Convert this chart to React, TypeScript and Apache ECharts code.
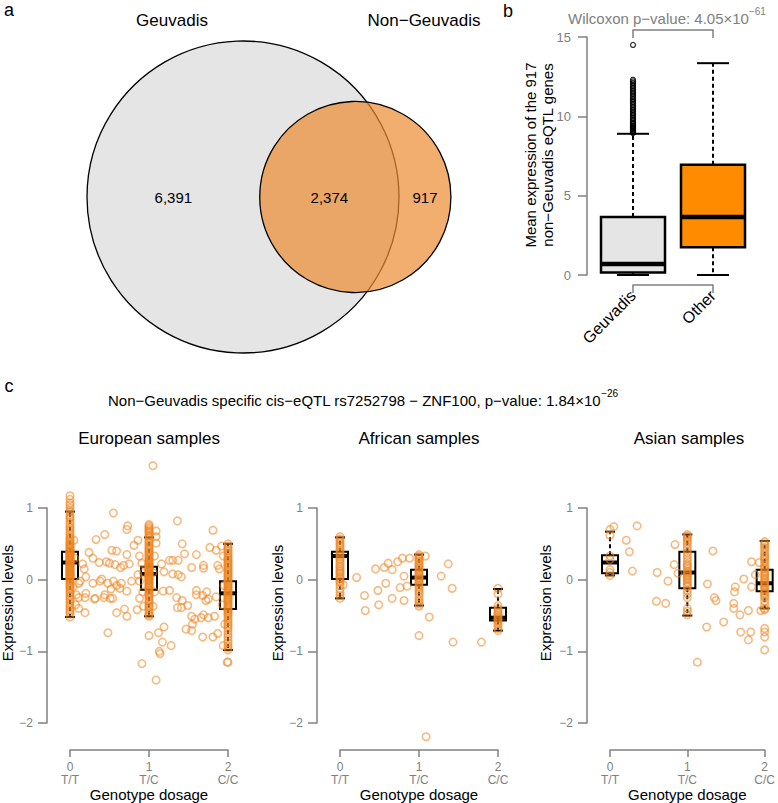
import React, { useEffect, useRef } from 'react';
import * as echarts from 'echarts';

const FONT = '"Liberation Sans", Arial, Helvetica, sans-serif';
const GRAY = '#808080';
const PT_COLOR = 'rgba(238,132,32,0.7)';

// ---------- Panel a: Venn ----------
const vennSetNames = ['Geuvadis', 'Non\u2212Geuvadis'];
const vennGeuvadisOnly = 6391;
const vennShared = 2374;
const vennNonGeuvadisOnly = 917;

// ---------- Panel b: boxplot ----------
const bCategories = ['Geuvadis', 'Other'];
// [x, lower whisker, q1, median, q3, upper whisker]
const bBoxes = [
  [0, 0, 0.15, 0.7, 3.65, 8.9],
  [1, 0, 1.75, 3.65, 6.95, 13.35],
];
const bOutliersGeuvadis = [
  8.95, 9.0, 9.05, 9.1, 9.15, 9.2, 9.25, 9.3, 9.35, 9.4, 9.5, 9.55, 9.6, 9.7, 9.8, 9.9, 10.0, 10.1,
  10.2, 10.3, 10.4, 10.5, 10.6, 10.7, 10.8, 10.9, 11.0, 11.1, 11.2, 11.3, 11.4, 11.5, 11.6, 11.7,
  11.8, 11.9, 12.0, 12.1, 12.2, 12.3, 14.5,
];
const bPValue = '4.05\u00d710';
const bPExp = '\u221261';

// ---------- Panel c ----------
const genotypeLabels = ['T/T', 'T/C', 'C/C'];
const cPopulations = ['European samples', 'African samples', 'Asian samples'];
const cPValue = '1.84\u00d710';
const cPExp = '\u221226';

const eurCol0 = [1.17, 1.12, 1.07, 1.04, 1.0, 0.96, 0.94, 0.9, 0.87, 0.85, 0.81, 0.78, 0.74, 0.72, 0.69, 0.66, 0.63, 0.6, 0.58, 0.56, 0.54, 0.52, 0.5, 0.49, 0.47, 0.46, 0.44, 0.43, 0.41, 0.4, 0.39, 0.38, 0.37, 0.36, 0.35, 0.34, 0.33, 0.32, 0.31, 0.3, 0.29, 0.28, 0.27, 0.26, 0.25, 0.24, 0.23, 0.22, 0.21, 0.2, 0.19, 0.18, 0.17, 0.16, 0.15, 0.14, 0.13, 0.12, 0.11, 0.1, 0.09, 0.08, 0.07, 0.06, 0.05, 0.04, 0.03, 0.02, 0.01, 0.0, -0.02, -0.04, -0.06, -0.08, -0.1, -0.12, -0.14, -0.17, -0.19, -0.22, -0.24, -0.27, -0.3, -0.33, -0.36, -0.39, -0.42, -0.45, -0.48, -0.52];
const eurCol1 = [0.77, 0.75, 0.73, 0.71, 0.69, 0.67, 0.65, 0.62, 0.6, 0.58, 0.55, 0.53, 0.51, 0.48, 0.46, 0.44, 0.42, 0.4, 0.38, 0.36, 0.34, 0.32, 0.3, 0.28, 0.26, 0.25, 0.23, 0.22, 0.21, 0.2, 0.19, 0.18, 0.17, 0.16, 0.15, 0.14, 0.13, 0.12, 0.11, 0.1, 0.09, 0.08, 0.07, 0.06, 0.05, 0.04, 0.03, 0.02, 0.01, 0.0, -0.01, -0.02, -0.04, -0.05, -0.07, -0.08, -0.1, -0.11, -0.13, -0.15, -0.17, -0.19, -0.21, -0.23, -0.25, -0.28, -0.3, -0.33, -0.36, -0.38, -0.41, -0.44, -0.47, -0.49, -0.51, -0.78];
const eurCol2 = [0.5, 0.47, 0.45, 0.42, 0.4, 0.37, 0.35, 0.32, 0.3, 0.28, 0.26, 0.24, 0.22, 0.2, 0.18, 0.16, 0.14, 0.12, 0.1, 0.08, 0.06, 0.04, 0.02, 0.0, -0.02, -0.04, -0.06, -0.08, -0.1, -0.11, -0.13, -0.15, -0.16, -0.18, -0.19, -0.21, -0.22, -0.24, -0.25, -0.27, -0.28, -0.3, -0.32, -0.34, -0.36, -0.38, -0.4, -0.42, -0.44, -0.46, -0.48, -0.5, -0.53, -0.56, -0.59, -0.62, -0.65, -0.68, -0.72, -0.76, -0.8, -0.84, -0.88, -0.92, -0.95, -0.98, -1.15];
const eurScatter = [
  [1.05, 1.59], [0.55, 0.93], [1.36, 0.82], [0.73, 0.75], [0.72, 0.7], [0.44, 0.63], [1.81, 0.69], [1.09, 0.68],
  [0.33, 0.56], [0.86, 0.55], [1.42, 0.5], [0.81, 0.48], [1.77, 0.45], [0.24, 0.38], [0.53, 0.41], [0.59, 0.4],
  [0.72, 0.35], [1.45, 0.36], [1.6, 0.35], [1.85, 0.41], [0.29, 0.3], [0.37, 0.24], [0.46, 0.25], [0.5, 0.23],
  [0.57, 0.21], [0.68, 0.2], [0.64, 0.17], [0.75, 0.22], [0.16, 0.22], [0.18, 0.15], [1.16, 0.22], [1.26, 0.27],
  [1.3, 0.27], [1.37, 0.27], [1.69, 0.2], [1.69, 0.16], [1.87, 0.2], [1.89, 0.15], [1.19, 0.11], [1.3, 0.08],
  [1.37, 0.07], [1.41, 0.04], [1.54, 0.17], [0.86, 0.07], [0.88, -0.02], [0.78, -0.02], [0.4, 0.01], [0.38, -0.02],
  [0.29, -0.05], [0.2, 0.04], [0.13, -0.02], [0.11, -0.05], [0.48, -0.05], [0.55, -0.02], [0.59, -0.08], [0.63, -0.12],
  [0.52, -0.13], [0.72, -0.16], [0.65, -0.05], [0.2, -0.19], [0.11, -0.25], [0.19, -0.25], [0.08, -0.21], [0.32, -0.26],
  [0.31, -0.27], [0.43, -0.25], [0.51, -0.26], [0.44, -0.21], [0.54, -0.26], [0.19, -0.46], [0.11, -0.4], [0.59, -0.46],
  [0.69, -0.41], [0.72, -0.51], [0.48, -0.74], [1.18, -0.16], [1.26, -0.15], [1.35, -0.25], [1.42, -0.29], [1.36, -0.39],
  [1.41, -0.39], [1.49, -0.36], [1.6, -0.15], [1.6, -0.21], [1.68, -0.22], [1.72, -0.29], [1.75, -0.27], [1.73, -0.17],
  [1.54, -0.51], [1.58, -0.55], [1.55, -0.62], [1.47, -0.69], [1.54, -0.71], [1.66, -0.53], [1.69, -0.49], [1.75, -0.53],
  [1.68, -0.8], [1.81, -0.8], [1.87, -0.75], [1.83, -0.51], [1.85, -0.24], [1.19, -0.66], [1.12, -0.74], [1.17, -0.87],
  [1.28, -0.92], [1.13, -1.0], [1.14, -1.03], [0.91, -1.17], [1.09, -1.4], [1.94, -0.92], [1.99, -1.15],
  [0.05, 0.55], [0.06, 0.3], [0.04, -0.1], [0.07, -0.35], [0.88, 0.33], [0.91, 0.23], [0.93, 0.1], [1.07, 0.33],
  [1.09, 0.6], [1.09, 0.51], [1.05, 0.1], [1.07, -0.17], [0.92, -0.17], [0.88, -0.26], [0.93, -0.37], [0.85, -0.42],
  [1.05, -0.37], [1.94, 0.33], [1.92, 0.47], [1.95, -0.08], [1.93, -0.35], [1.96, -0.62],
];
const eurBoxes = [
  [0, -0.52, 0.01, 0.24, 0.39, 0.95],
  [1, -0.51, -0.14, 0.08, 0.18, 0.59],
  [2, -0.98, -0.41, -0.19, -0.02, 0.5],
];

const afrCol0 = [0.6, 0.57, 0.55, 0.52, 0.49, 0.47, 0.44, 0.41, 0.38, 0.36, 0.33, 0.3, 0.28, 0.25, 0.22, 0.19, 0.17, 0.14, 0.12, 0.1, 0.08, 0.05, 0.03, 0.01, -0.02, -0.04, -0.08, -0.13, -0.18, -0.22, -0.26];
const afrCol1 = [0.35, 0.33, 0.31, 0.29, 0.27, 0.25, 0.22, 0.2, 0.18, 0.16, 0.14, 0.12, 0.1, 0.08, 0.06, 0.04, 0.02, 0.01, -0.01, -0.03, -0.05, -0.08, -0.11, -0.14, -0.17, -0.2, -0.24, -0.28, -0.31, -0.34, -0.37, -0.78];
const afrCol2 = [-0.12, -0.2, -0.36, -0.4, -0.43, -0.46, -0.48, -0.5, -0.52, -0.54, -0.56, -0.58, -0.61, -0.64, -0.68, -0.71];
const afrScatter = [
  [0.21, 0.03], [0.31, -0.22], [0.32, -0.43], [0.45, 0.15], [0.48, -0.15], [0.49, -0.35], [0.56, 0.17], [0.58, -0.05],
  [0.61, 0.23], [0.66, 0.14], [0.66, -0.26], [0.73, 0.25], [0.76, -0.11], [0.79, 0.3], [0.81, 0.05], [0.81, -0.29],
  [0.85, -0.09], [0.88, 0.3], [1.08, 0.33], [1.13, -0.52], [1.09, -2.19], [1.28, 0.05], [1.37, 0.22], [1.42, -0.12],
  [1.43, -0.87], [1.79, -0.87], [0.04, -0.07],
];
const afrBoxes = [
  [0, -0.26, 0.01, 0.33, 0.39, 0.59],
  [1, -0.36, -0.07, 0.03, 0.14, 0.35],
  [2, -0.71, -0.57, -0.53, -0.39, -0.13],
];

const asnCol0 = [0.7, 0.62, 0.33, 0.28, 0.14, 0.1, 0.06];
const asnCol1 = [0.63, 0.61, 0.59, 0.56, 0.53, 0.5, 0.46, 0.42, 0.38, 0.34, 0.3, 0.26, 0.22, 0.2, 0.18, 0.15, 0.12, 0.1, 0.08, 0.06, 0.04, 0.02, 0.0, -0.03, -0.05, -0.08, -0.1, -0.15, -0.2, -0.25, -0.4, -0.44, -0.49];
const asnCol2 = [0.53, 0.5, 0.48, 0.45, 0.42, 0.38, 0.35, 0.32, 0.3, 0.27, 0.24, 0.2, 0.17, 0.15, 0.12, 0.1, 0.07, 0.05, 0.02, 0.0, -0.02, -0.04, -0.06, -0.08, -0.1, -0.13, -0.15, -0.18, -0.2, -0.23, -0.25, -0.3, -0.35, -0.4, -0.42, -0.68, -0.73, -0.8, -0.98];
const asnScatter = [
  [0.05, 0.74], [0.21, 0.55], [0.25, 0.39], [0.29, 0.12], [0.35, 0.75], [0.61, 0.1], [0.6, -0.3], [0.72, -0.33],
  [0.75, -0.02], [0.84, 0.49], [0.83, 0.21], [0.88, 0.09], [1.13, -1.15], [1.25, -0.66], [1.26, -0.06], [1.33, 0.4],
  [1.35, -0.25], [1.37, -0.29], [1.47, -0.59], [1.6, -0.33], [1.62, -0.1], [1.61, -0.17], [1.6, -0.4], [1.68, -0.49],
  [1.69, -0.73], [1.73, 0.01], [1.79, -0.43], [1.79, -0.84], [1.83, 0.25], [1.83, -0.1], [1.82, -0.73], [1.88, 0.07],
  [1.93, 0.24], [1.95, -0.43],
];
const asnBoxes = [
  [0, 0.06, 0.09, 0.24, 0.34, 0.67],
  [1, -0.5, -0.12, 0.1, 0.39, 0.63],
  [2, -0.4, -0.16, -0.05, 0.14, 0.54],
];

// ---------- helpers ----------
function lensArea(R: number, r: number, d: number) {
  if (d >= R + r) return 0;
  if (d <= Math.abs(R - r)) return Math.PI * Math.min(R, r) ** 2;
  const a1 = r * r * Math.acos((d * d + r * r - R * R) / (2 * d * r));
  const a2 = R * R * Math.acos((d * d + R * R - r * r) / (2 * d * R));
  const a3 = 0.5 * Math.sqrt((-d + r + R) * (d + r - R) * (d - r + R) * (d + r + R));
  return a1 + a2 - a3;
}
function solveDistance(R: number, r: number, target: number) {
  let lo = Math.abs(R - r), hi = R + r;
  for (let i = 0; i < 60; i++) {
    const mid = (lo + hi) / 2;
    if (lensArea(R, r, mid) > target) lo = mid; else hi = mid;
  }
  return (lo + hi) / 2;
}
const minus = (v: number) => (v < 0 ? '\u2212' + Math.abs(v) : String(v));

function boxRenderer(halfW: number, capHalf: number, fills: string[], boxLW: number, medLW: number) {
  return (params: any, api: any) => {
    const x = api.value(0);
    const p = (v: number) => api.coord([x, v]);
    const lo = p(api.value(1)), q1 = p(api.value(2)), md = p(api.value(3)), q3 = p(api.value(4)), hi = p(api.value(5));
    const cx = lo[0];
    const dash = { stroke: '#000', lineWidth: 2, lineDash: [4, 3] };
    const solid = { stroke: '#000', lineWidth: 2 };
    return {
      type: 'group',
      children: [
        { type: 'line', shape: { x1: cx, y1: q3[1], x2: cx, y2: hi[1] }, style: dash },
        { type: 'line', shape: { x1: cx, y1: q1[1], x2: cx, y2: lo[1] }, style: dash },
        { type: 'line', shape: { x1: cx - capHalf, y1: hi[1], x2: cx + capHalf, y2: hi[1] }, style: solid },
        { type: 'line', shape: { x1: cx - capHalf, y1: lo[1], x2: cx + capHalf, y2: lo[1] }, style: solid },
        {
          type: 'rect',
          shape: { x: cx - halfW, y: q3[1], width: 2 * halfW, height: q1[1] - q3[1] },
          style: { fill: fills[params.dataIndex % fills.length], stroke: '#000', lineWidth: boxLW },
        },
        { type: 'line', shape: { x1: cx - halfW, y1: md[1], x2: cx + halfW, y2: md[1] }, style: { stroke: '#000', lineWidth: medLW } },
      ],
    };
  };
}

export default function App() {
  const ref = useRef<HTMLDivElement>(null);
  useEffect(() => {
    document.body.style.margin = '0';
    const chart = echarts.init(ref.current!, undefined, { renderer: 'svg' });

    // Venn geometry (radius proportional to sqrt of set size)
    const R = Math.sqrt(vennGeuvadisOnly + vennShared);
    const r = Math.sqrt(vennShared + vennNonGeuvadisOnly);
    const d = solveDistance(R, r, Math.PI * vennShared);
    const k = 156 / R; // px per unit
    const vcx = 243, vcy = 197, vW = 520, vH = 380;
    const vennCircles = [[0, 0, R], [d, 0, r]];
    const vennFills = ['#e5e5e5', 'rgba(235,140,50,0.7)'];
    const vennLabels = [
      [(-R + (d - r)) / 2, 0, vennGeuvadisOnly],
      [((d - r) + R) / 2, 0, vennShared],
      [(R + d + r) / 2, 0, vennNonGeuvadisOnly],
    ];

    const cGrids = [70, 340, 610];
    const cYAxisTitleX = [7, 277, 545];
    const cTitleX = [149, 419, 689];
    const pops = [
      { cols: [eurCol0, eurCol1, eurCol2], scatter: eurScatter, boxes: eurBoxes },
      { cols: [afrCol0, afrCol1, afrCol2], scatter: afrScatter, boxes: afrBoxes },
      { cols: [asnCol0, asnCol1, asnCol2], scatter: asnScatter, boxes: asnBoxes },
    ];

    const grids: any[] = [
      { left: 0, top: 0, width: vW, height: vH },
      { left: 633, top: 37, width: 80, height: 238 },
      ...cGrids.map((l) => ({ left: l, top: 508, width: 158, height: 220 })),
    ];

    const axisLine = { show: true, onZero: false, lineStyle: { color: GRAY, width: 1.5 } };
    const xAxes: any[] = [
      { gridIndex: 0, type: 'value', min: -vcx / k, max: (vW - vcx) / k, show: false },
      {
        gridIndex: 1, type: 'value', min: 0, max: 1, interval: 1, position: 'bottom', offset: 10,
        axisLine, splitLine: { show: false },
        axisTick: { show: true, length: 8, lineStyle: { color: GRAY, width: 1.5 } },
        axisLabel: {
          rotate: 45, margin: 8, color: '#000', fontSize: 16, fontFamily: FONT,
          formatter: (v: number) => bCategories[v] ?? '',
        },
      },
      {
        gridIndex: 1, type: 'value', min: 0, max: 1, interval: 1, position: 'top', offset: 7,
        axisLine, splitLine: { show: false },
        axisTick: { show: true, inside: true, length: 8, lineStyle: { color: GRAY, width: 1.5 } },
        axisLabel: { show: false },
      },
      ...cGrids.map((_, i) => ({
        gridIndex: 2 + i, type: 'value', min: 0, max: 2, interval: 1, position: 'bottom', offset: 27,
        axisLine, splitLine: { show: false },
        axisTick: { show: true, length: 7, lineStyle: { color: GRAY, width: 1.5 } },
        axisLabel: {
          margin: 10, color: GRAY, fontSize: 12, lineHeight: 13, fontFamily: FONT,
          formatter: (v: number) => `${v}\n${genotypeLabels[v]}`,
        },
        name: 'Genotype dosage', nameLocation: 'middle', nameGap: 31,
        nameTextStyle: { color: '#000', fontSize: 15, fontFamily: FONT },
      })),
    ];
    const yAxes: any[] = [
      { gridIndex: 0, type: 'value', min: -(vH - vcy) / k, max: vcy / k, show: false },
      {
        gridIndex: 1, type: 'value', min: 0, max: 15, interval: 5, offset: 46,
        axisLine, splitLine: { show: false },
        axisTick: { show: true, length: 9, lineStyle: { color: GRAY, width: 1.5 } },
        axisLabel: { margin: 16, color: GRAY, fontSize: 13, fontFamily: FONT },
      },
      ...cGrids.map((_, i) => ({
        gridIndex: 2 + i, type: 'value', min: -2, max: 1, interval: 1, offset: 23,
        axisLine, splitLine: { show: false },
        axisTick: { show: true, length: 9, lineStyle: { color: GRAY, width: 1.5 } },
        axisLabel: { margin: 14, color: GRAY, fontSize: 12, fontFamily: FONT, formatter: minus },
      })),
    ];

    const series: any[] = [
      {
        type: 'custom', xAxisIndex: 0, yAxisIndex: 0, data: vennCircles, clip: false,
        renderItem: (params: any, api: any) => {
          const c = api.coord([api.value(0), api.value(1)]);
          const rr = api.size([api.value(2), 0])[0];
          return {
            type: 'circle', shape: { cx: c[0], cy: c[1], r: rr },
            style: { fill: vennFills[params.dataIndex], stroke: '#000', lineWidth: 1.3 },
          };
        },
      },
      {
        type: 'custom', xAxisIndex: 0, yAxisIndex: 0, data: vennLabels, clip: false,
        renderItem: (params: any, api: any) => {
          const c = api.coord([api.value(0), api.value(1)]);
          return {
            type: 'text', x: c[0], y: c[1],
            style: {
              text: Number(api.value(2)).toLocaleString('en-US'), fill: '#000', fontSize: 15,
              fontFamily: FONT, align: 'center', verticalAlign: 'middle',
            },
          };
        },
      },
      {
        type: 'scatter', xAxisIndex: 1, yAxisIndex: 1, clip: false,
        data: bOutliersGeuvadis.map((v) => [0, v]),
        symbol: 'circle', symbolSize: 5,
        itemStyle: { color: 'transparent', borderColor: '#000', borderWidth: 1.3 },
      },
      {
        type: 'custom', xAxisIndex: 1, yAxisIndex: 1, clip: false, data: bBoxes,
        renderItem: boxRenderer(32, 16, ['#e5e5e5', '#ff8c00'], 2.5, 4.5),
      },
    ];

    pops.forEach((pop, i) => {
      const pts: number[][] = [];
      pop.cols.forEach((col, dose) => col.forEach((y) => pts.push([dose, y])));
      pop.scatter.forEach((p) => pts.push(p));
      series.push({
        type: 'scatter', xAxisIndex: 3 + i, yAxisIndex: 2 + i, clip: false, data: pts,
        symbol: 'circle', symbolSize: 7.5,
        itemStyle: { color: 'transparent', borderColor: PT_COLOR, borderWidth: 1.6 },
      });
      series.push({
        type: 'custom', xAxisIndex: 3 + i, yAxisIndex: 2 + i, clip: false, data: pop.boxes,
        renderItem: boxRenderer(8, 5, ['transparent'], 2, 4),
      });
    });

    const txt = (text: string, x: number, y: number, extra: any = {}) => ({
      type: 'text', x, y,
      style: { text, fill: '#000', fontSize: 17, fontFamily: FONT, align: 'center', verticalAlign: 'middle', ...extra },
    });

    const graphic: any[] = [
      txt('a', 9, 10, { fontSize: 18 }),
      txt('b', 508, 11, { fontSize: 18 }),
      txt('c', 9, 386, { fontSize: 18 }),
      txt(vennSetNames[0], 172, 20),
      txt(vennSetNames[1], 424, 20),
      txt(`Wilcoxon p\u2212value: ${bPValue}{sup|${bPExp}}`, 568, 18, {
        align: 'left', fill: GRAY, fontSize: 15,
        rich: { sup: { fontSize: 10, fill: GRAY, fontFamily: FONT, verticalAlign: 'top', lineHeight: 24 } },
      }),
      {
        type: 'text', x: 539, y: 155, rotation: Math.PI / 2,
        style: {
          text: 'Mean expression of the 917\nnon\u2212Geuvadis eQTL genes', fill: '#000', fontSize: 15,
          lineHeight: 17, fontFamily: FONT, align: 'center', verticalAlign: 'middle',
        },
      },
      txt(`Non\u2212Geuvadis specific cis\u2212eQTL rs7252798 \u2212 ZNF100, p\u2212value: ${cPValue}{sup|${cPExp}}`, 108, 400, {
        align: 'left', fontSize: 15,
        rich: { sup: { fontSize: 10, fontFamily: FONT, verticalAlign: 'top', lineHeight: 24 } },
      }),
      ...cPopulations.map((t, i) => txt(t, cTitleX[i], 438)),
      ...cYAxisTitleX.map((x) => ({
        type: 'text', x, y: 603, rotation: Math.PI / 2,
        style: { text: 'Expression levels', fill: '#000', fontSize: 15, fontFamily: FONT, align: 'center', verticalAlign: 'middle' },
      })),
    ];

    chart.setOption({
      animation: false,
      backgroundColor: '#fff',
      textStyle: { fontFamily: FONT },
      grid: grids,
      xAxis: xAxes,
      yAxis: yAxes,
      series,
      graphic,
    });
    return () => chart.dispose();
  }, []);
  return <div ref={ref} style={{ position: 'absolute', left: 0, top: 0, width: 778, height: 803 }} />;
}
